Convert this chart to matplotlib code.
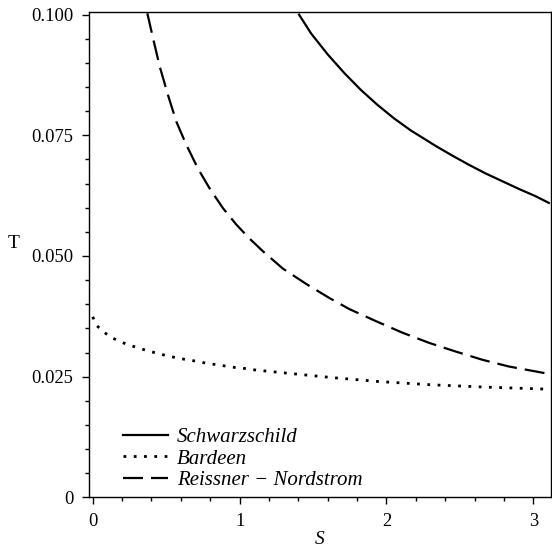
import matplotlib
matplotlib.use("Agg")
import matplotlib.pyplot as plt
from matplotlib.ticker import MultipleLocator, FixedFormatter, FixedLocator

# values (S, T)
s_schw = [1.405, 1.487, 1.599, 1.713, 1.826, 1.939, 2.052, 2.166, 2.256, 2.335, 2.448,
          2.561, 2.675, 2.788, 2.901, 3.014, 3.105]
t_schw = [0.1000, 0.0961, 0.0918, 0.0879, 0.0844, 0.0813, 0.0785, 0.0760, 0.0743, 0.0728, 0.0708,
          0.0689, 0.0671, 0.0655, 0.0639, 0.0624, 0.0610]

s_rn = [0.372, 0.411, 0.457, 0.513, 0.570, 0.638, 0.717, 0.796, 0.887, 0.978, 1.068, 1.158,
        1.294, 1.464, 1.611, 1.747, 1.928, 2.109, 2.290, 2.471, 2.652, 2.833, 3.082, 3.105]
t_rn = [0.1003, 0.0951, 0.0892, 0.0833, 0.0778, 0.0730, 0.0681, 0.0640, 0.0599, 0.0565, 0.0536, 0.0510,
        0.0474, 0.0440, 0.0413, 0.0390, 0.0365, 0.0341, 0.0320, 0.0302, 0.0285, 0.0271, 0.0257, 0.0256]

s_bard = [0.0, 0.027, 0.077, 0.129, 0.190, 0.253, 0.316, 0.380, 0.445, 0.509, 0.574, 0.640, 0.706,
          0.771, 0.837, 0.903, 0.968, 1.034, 1.100, 1.165, 1.231, 1.297, 1.63, 1.94, 2.31, 2.70, 3.105]
t_bard = [0.0374, 0.0356, 0.0342, 0.0331, 0.0322, 0.0315, 0.0309, 0.0303, 0.0298, 0.0293, 0.0289, 0.0285, 0.0282,
          0.0278, 0.0275, 0.0272, 0.0269, 0.0267, 0.0264, 0.0262, 0.0260, 0.0258, 0.0248, 0.0240, 0.0233, 0.0228, 0.0224]

labels = ["Schwarzschild", "Bardeen", "Reissner \u2212 Nordstrom"]
x_ticks = [0, 1, 2, 3]
y_ticks = [0, 0.025, 0.05, 0.075, 0.1]
y_ticklabels = ["0", "0.025", "0.050", "0.075", "0.100"]

plt.rcParams['font.family'] = ['Liberation Serif', 'DejaVu Serif']

fig = plt.figure(figsize=(5.52, 5.49), dpi=100)
ax = fig.add_axes([0.1607, 0.0942, 0.8375, 0.884])

lw = 1.6
ax.plot(s_schw, t_schw, color='black', lw=lw, label=labels[0])
l2, = ax.plot(s_bard, t_bard, color='black', lw=2.0, label=labels[1])
l2.set_dashes([1.0, 2.7])
l3, = ax.plot(s_rn, t_rn, color='black', lw=lw, label=labels[2])
l3.set_dashes([9.0, 3.6])

ax.set_xlim(-0.027, 3.12)
ax.set_ylim(0, 0.10056)

ax.xaxis.set_major_locator(FixedLocator(x_ticks))
ax.xaxis.set_minor_locator(MultipleLocator(0.2))
ax.yaxis.set_major_locator(FixedLocator(y_ticks))
ax.yaxis.set_major_formatter(FixedFormatter(y_ticklabels))
ax.yaxis.set_minor_locator(MultipleLocator(0.005))
ax.tick_params(which='major', length=5, width=1.0, labelsize=13.3, pad=6, direction='out')
ax.tick_params(which='minor', length=3, width=1.0, direction='out')
ax.tick_params(top=False, right=False, which='both')

for sp in ax.spines.values():
    sp.set_linewidth(1.0)

ax.set_xlabel("S", fontsize=14, style='italic')
ax.xaxis.set_label_coords(0.5, -0.069)
ax.set_ylabel("T", fontsize=14, rotation=0, va='center', ha='center')
ax.yaxis.set_label_coords(-0.1616, 0.522)

leg = ax.legend(loc='center left', bbox_to_anchor=(0.074, 0.079), frameon=False,
                borderaxespad=0, borderpad=0, handlelength=2.16, handletextpad=0.43,
                labelspacing=0.1, prop={'family': 'Liberation Serif', 'style': 'italic', 'size': 15})

fig.savefig("out.png", dpi=100)
